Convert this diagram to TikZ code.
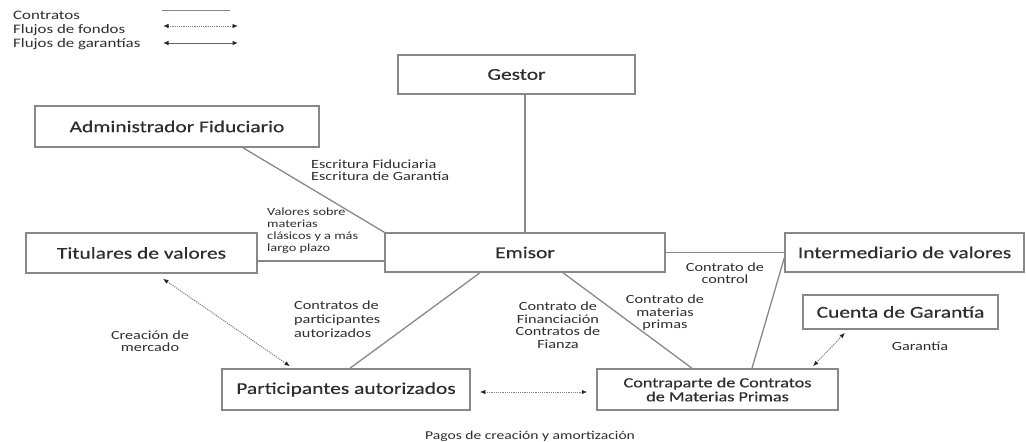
\documentclass[tikz,border=0pt]{standalone}
\usepackage{fontspec}
\setmainfont{Carlito}[FakeStretch=1.3]
\newfontfamily\boxfont{Carlito}[FakeStretch=1.3, FakeBold=0.5]
\usetikzlibrary{arrows.meta,calc}

\definecolor{txt}{HTML}{2E2E2E}
\definecolor{edge}{HTML}{888888}

\begin{document}
\begin{tikzpicture}[
    x=1pt, y=-1pt,
    party/.style={rectangle, draw=edge, line width=1.5pt, inner sep=2pt, text=txt,
                  font=\boxfont\fontsize{16.5}{17}\selectfont},
    note/.style={text=txt, inner sep=0pt, font=\fontsize{12.5}{12.5}\selectfont},
    tiny/.style={text=txt, inner sep=0pt, font=\fontsize{11}{12}\selectfont},
    legend/.style={text=txt, inner sep=0pt, anchor=west, font=\fontsize{13}{15}\selectfont},
    contract/.style={draw=edge, line width=1.3pt},
    fondos/.style={<->, >={Latex[length=5.5pt,width=4.5pt,color=black!85]}, draw=black!50,
                   line width=1pt, dash pattern=on 1.2pt off 1pt},
    garant/.style={<->, >={Latex[length=5.5pt,width=4.5pt,color=black!85]}, draw=black!60,
                   line width=1pt}
]
\useasboundingbox (0,0) rectangle (1026,442);

% Legend
\node[legend] (lc) at (13,15) {Contratos};
\node[legend] (lf) at (13,30) {Flujos de fondos};
\node[legend] (lg) at (13,44) {Flujos de garantías};
\coordinate (c1) at (162,10);
\coordinate (c2) at (230,10);
\coordinate (f1) at (163,26);
\coordinate (f2) at (238,26);
\coordinate (g1) at (163,43);
\coordinate (g2) at (238,43);
\draw[contract, line width=1pt] (c1) -- (c2);
\draw[fondos] (f1) -- (f2);
\draw[garant] (g1) -- (g2);

% Parties
\node[party, minimum width=237pt, minimum height=39pt] (gest) at (516.5,74.5) {Gestor};
\node[party, minimum width=284pt, minimum height=41pt] (admin) at (177,126.5) {Administrador Fiduciario};
\node[party, minimum width=231pt, minimum height=40pt] (tit) at (141.5,253) {Titulares de valores};
\node[party, minimum width=280pt, minimum height=39pt] (emi) at (525,252.5) {Emisor};
\node[party, minimum width=239pt, minimum height=39pt] (inter) at (904.5,252.5) {Intermediario de valores};
\node[party, minimum width=195pt, minimum height=34pt] (cta) at (900.5,312) {Cuenta de Garantía};
\node[party, minimum width=248pt, minimum height=41pt] (part) at (346,389.5) {Participantes autorizados};
\node[party, minimum width=241pt, minimum height=41pt, align=center,
      font=\boxfont\fontsize{14}{14}\selectfont] (contra) at (717.5,389.5)
      {Contraparte de Contratos\\de Materias Primas};

% Contracts
\draw[contract] (gest.south -| emi.north) -- (emi.north);
\draw[contract] ([xshift=66pt]admin.south) -- (emi.north west);
\draw[contract] ([yshift=-8pt]tit.east) -- ([yshift=-8pt]tit.east -| emi.west);
\draw[contract] (emi.east) -- (inter.west);
\draw[contract] ([xshift=-45pt]emi.south) -- ([xshift=4pt]part.north);
\draw[contract] ([xshift=38pt]emi.south) -- ([xshift=-25.5pt]contra.north);
\draw[contract] ([yshift=-5.5pt]inter.west) -- ([xshift=34.5pt]contra.north);

% Flows
\draw[fondos] ([xshift=21.5pt,yshift=-5pt]tit.south) -- ([xshift=-56pt,yshift=2pt]part.north);
\draw[fondos, shorten <=9pt, shorten >=9pt] ([yshift=-2.5pt]part.east) -- ([yshift=-2.5pt]part.east -| contra.west);
\draw[fondos] ([xshift=-55.5pt,yshift=-3pt]cta.south) -- ([xshift=95.5pt,yshift=2pt]contra.north);

% Labels
\node[note, align=left, anchor=west] (escr) at (311,170) {Escritura Fiduciaria\\Escritura de Garantía};
\node[tiny, align=left, anchor=west] (valo) at (267,231) {Valores sobre\\materias\\clásicos y a más\\largo plazo};
\node[note, align=center] (ctrl) at (725,273) {Contrato de\\control};
\node[note, align=center] (mat) at (665,313) {Contrato de\\materias\\primas};
\node[note, align=center] (fin) at (558,325) {Contrato de\\Financiación\\Contratos de\\Fianza};
\node[note, align=left, anchor=west, font=\fontsize{12.5}{14}\selectfont] (cpart) at (294,319)
      {Contratos de\\participantes\\autorizados};
\node[note, align=center] (merc) at (150,341) {Creación de\\mercado};
\node[note] (gar) at (920,346) {Garantía};
\node[note, font=\fontsize{12}{12}\selectfont] (pagos) at (530,436) {Pagos de creación y amortización};

\end{tikzpicture}
\end{document}
